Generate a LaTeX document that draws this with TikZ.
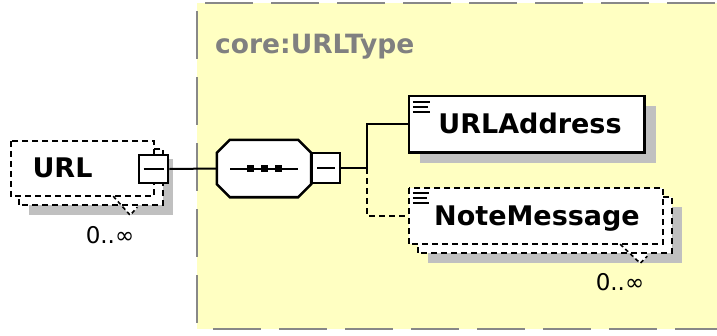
\documentclass[tikz,border=0pt]{standalone}
\usepackage{fontspec}
\newfontfamily\dvs{DejaVu Sans}
\usetikzlibrary{calc}
\definecolor{bgyellow}{RGB}{255,255,194}
\definecolor{shadowgray}{RGB}{192,192,192}
\definecolor{bordgray}{RGB}{136,136,136}
\definecolor{titlegray}{RGB}{128,128,128}
\tikzset{
 bord/.style={draw=bordgray, line width=2.5pt, dash pattern=on 48pt off 18pt},
 dbox/.style={draw=black, fill=white, line width=2.2pt, dash pattern=on 6pt off 4pt, inner sep=0pt},
 sbox/.style={draw=black, fill=white, line width=2.6pt, inner sep=0pt},
 conn/.style={draw=black, line width=2pt},
 dconn/.style={conn, dash pattern=on 6pt off 4pt},
 notch/.style={draw=black, line width=1.6pt, dash pattern=on 4pt off 3pt},
 lbl/.style={font=\dvs\bfseries\fontsize{27}{30}\selectfont, inner sep=0pt},
 mult/.style={font=\dvs\fontsize{23}{26}\selectfont, inner sep=0pt},
 btn/.style={sbox, minimum width=29pt, minimum height=28pt},
 icon/.style={draw=black, line width=2pt},
}
\begin{document}
\begin{tikzpicture}[x=1pt,y=-1pt]
\useasboundingbox (0,0) rectangle (717,335);
% type area
\fill[bgyellow] (197,3) rectangle (717,329);
\draw[bord, dash phase=58pt] (197,3) -- (717,3);
\draw[bord, dash phase=58pt] (197,3) -- (197,329);
\draw[bord, dash phase=50pt] (197,329) -- (717,329);
\node[font=\dvs\bfseries\fontsize{26.5}{30}\selectfont, text=titlegray, inner sep=0pt, anchor=base west] (title) at (215,53) {core:URLType};

% URL element (repeated)
\node[minimum width=143pt, minimum height=55pt, inner sep=0pt] (urlfront) at (82.5,168.5) {};
\fill[shadowgray] ($(urlfront.north west)+(18,18)$) rectangle ($(urlfront.south east)+(19,19)$);
\fill[white] ($(urlfront.south east)+(-41,0)$) -- ($(urlfront.south east)+(-24,19)$) -- ($(urlfront.south east)+(-17,12)$) -- ($(urlfront.south east)+(-17,0)$) -- cycle;
\draw[dbox] ($(urlfront.north west)+(8,8)$) rectangle ($(urlfront.south east)+(9,9)$);
\draw[dbox] (urlfront.north west) rectangle (urlfront.south east);
\draw[notch] ($(urlfront.south east)+(-41,0)$) -- ($(urlfront.south east)+(-24,19)$) -- ($(urlfront.south east)+(-17,11)$);
\node[lbl, anchor=base] (urltext) at (62.5,177) {URL};
\node[btn] (urlbtn) at (153.5,169) {};
\draw[icon] ($(urlbtn.center)+(-10,0)$) -- ($(urlbtn.center)+(10,0)$);
\node[mult, anchor=base] (urlmult) at (110,243) {0..∞};

% sequence compositor
\node[minimum width=94pt, minimum height=57pt, inner sep=0pt] (seq) at (264,168.5) {};
\fill[shadowgray, shift={(12,11)}]
  ($(seq.north west)+(13,0)$) -- ($(seq.north east)+(-13,0)$) -- ($(seq.north east)+(0,13)$) -- ($(seq.south east)+(0,-13)$) --
  ($(seq.south east)+(-13,0)$) -- ($(seq.south west)+(13,0)$) -- ($(seq.south west)+(0,-13)$) -- ($(seq.north west)+(0,13)$) -- cycle;
\draw[sbox]
  ($(seq.north west)+(13,0)$) -- ($(seq.north east)+(-13,0)$) -- ($(seq.north east)+(0,13)$) -- ($(seq.south east)+(0,-13)$) --
  ($(seq.south east)+(-13,0)$) -- ($(seq.south west)+(13,0)$) -- ($(seq.south west)+(0,-13)$) -- ($(seq.north west)+(0,13)$) -- cycle;
\draw[icon] ($(seq.center)+(-34,0)$) -- ($(seq.center)+(34,0)$);
\foreach \dx in {-14,0,14} {\fill[black] ($(seq.center)+(\dx,0)+(-3.5,-3.5)$) rectangle ($(seq.center)+(\dx,0)+(3.5,3.5)$);}
\node[sbox, minimum width=28pt, minimum height=30pt] (seqbtn) at (326,168) {};
\draw[icon] ($(seqbtn.center)+(-9,0)$) -- ($(seqbtn.center)+(9,0)$);

% URLAddress
\node[minimum width=235pt, minimum height=56pt, inner sep=0pt] (addr) at (526.5,124) {};
\fill[shadowgray] ($(addr.north west)+(11,10)$) rectangle ($(addr.south east)+(12,11)$);
\draw[sbox] (addr.north west) rectangle (addr.south east);
\foreach \dy/\len in {6/21,11/19,16/21} {\draw[icon] ($(addr.north west)+(4,\dy)$) -- ($(addr.north west)+(\len,\dy)$);}
\node[lbl, anchor=base] (addrtext) at (530,133) {URLAddress};

% NoteMessage (optional, repeated)
\node[minimum width=254pt, minimum height=56pt, inner sep=0pt] (note) at (536,216) {};
\fill[shadowgray] ($(note.north west)+(19,19)$) rectangle ($(note.south east)+(19,19)$);
\fill[white] ($(note.south east)+(-43,0)$) -- ($(note.south east)+(-23,19)$) -- ($(note.south east)+(-16,13)$) -- ($(note.south east)+(-16,0)$) -- cycle;
\draw[dbox] ($(note.north west)+(9,9)$) rectangle ($(note.south east)+(9,9)$);
\draw[dbox] (note.north west) rectangle (note.south east);
\draw[notch] ($(note.south east)+(-43,0)$) -- ($(note.south east)+(-23,19)$) -- ($(note.south east)+(-16,12)$);
\foreach \dy/\len in {5/20,10/18,15/20} {\draw[icon] ($(note.north west)+(4,\dy)$) -- ($(note.north west)+(\len,\dy)$);}
\node[lbl, anchor=base] (notetext) at (537,225) {NoteMessage};
\node[mult, anchor=base] (notemult) at (620,290) {0..∞};

% connectors
\coordinate (split) at (367,168);
\draw[conn] (urlbtn.east) -- (seq.west);
\draw[conn] (seqbtn.east) -- (split) |- (addr.west);
\draw[dconn] (split) |- (note.west);
\end{tikzpicture}
\end{document}
